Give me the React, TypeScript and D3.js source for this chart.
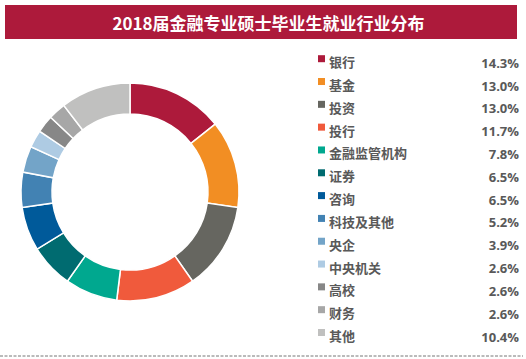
import React from "react";
import * as d3 from "d3";

const categories = ["银行", "基金", "投资", "投行", "金融监管机构", "证券", "咨询", "科技及其他", "央企", "中央机关", "高校", "财务", "其他"];
const values = [14.3, 13.0, 13.0, 11.7, 7.8, 6.5, 6.5, 5.2, 3.9, 2.6, 2.6, 2.6, 10.4];
const colors = ["#ad1a3b", "#f28e23", "#666660", "#f05a3c", "#00a88f", "#006b70", "#005a9a", "#4282b3", "#73a4c8", "#aecbe3", "#878787", "#a7a7a7", "#c0c0bf"];
const title = "2018届金融专业硕士毕业生就业行业分布";

export default function App() {
  const W = 526, H = 359;
  const cx = 130, cy = 192, rOuter = 109, rInner = 78;
  const pie = d3.pie<number>().sort(null).value((d) => d)(values);
  const arc = d3.arc<d3.PieArcDatum<number>>().innerRadius(rInner).outerRadius(rOuter);
  const rowY = d3.scaleLinear().domain([0, categories.length - 1]).range([61.7, 335.5]);
  const font = "'Noto Sans CJK SC', 'Microsoft YaHei', sans-serif";
  return (
    <svg width={W} height={H} style={{ position: "absolute", left: 0, top: 0 }}>
      <rect x={0} y={0} width={W} height={H} fill="#fff" />
      <rect x={5} y={5} width={512} height={34} fill="#ad1a3b" />
      <text x={268.5} y={22} fill="#fff" fontSize={17} fontWeight="bold" textAnchor="middle" dominantBaseline="central" fontFamily={font}>{title}</text>
      <g transform={`translate(${cx},${cy})`}>
        {pie.map((p, i) => (
          <path key={i} d={arc(p) || ""} fill={colors[i]} stroke="#fff" strokeWidth={1.5} />
        ))}
      </g>
      {categories.map((c, i) => (
        <g key={c}>
          <rect x={318} y={rowY(i) - 6.5} width={7} height={7} fill={colors[i]} />
          <text x={329} y={rowY(i)} fill="#595959" fontSize={13} fontWeight="bold" dominantBaseline="central" fontFamily={font}>{c}</text>
          <text x={519} y={rowY(i) + 1} fill="#595959" fontSize={13} fontWeight="bold" textAnchor="end" dominantBaseline="central" fontFamily="'Open Sans', 'Noto Sans', sans-serif">{values[i].toFixed(1)}%</text>
        </g>
      ))}
      <line x1={0} x2={523} y1={356} y2={356} stroke="#777" strokeWidth={1} strokeDasharray="3,1.5" />
    </svg>
  );
}
